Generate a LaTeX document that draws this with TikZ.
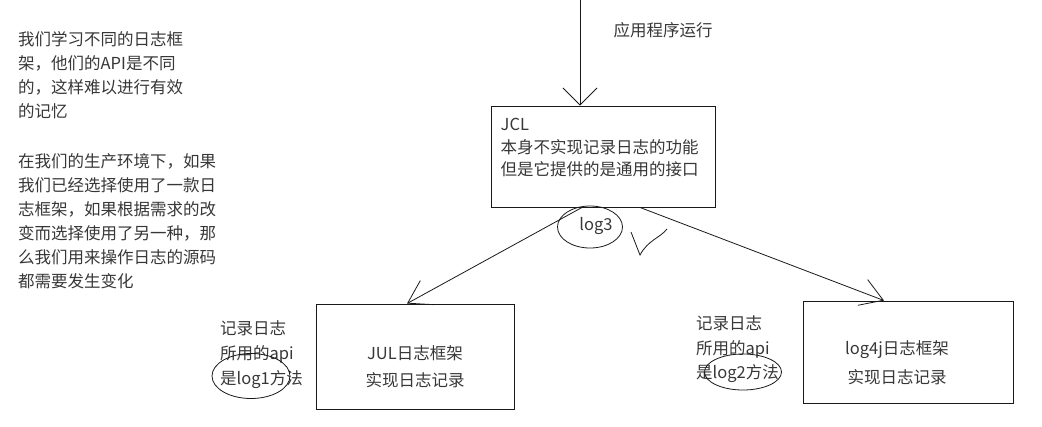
\documentclass[tikz,border=0pt]{standalone}
\usepackage{fontspec}
\setmainfont{Noto Sans CJK SC}
\usetikzlibrary{arrows.meta,positioning,shapes.geometric}
\definecolor{inkline}{RGB}{25,25,25}
\definecolor{inktext}{RGB}{55,55,55}
\tikzset{
  box/.style={
    draw=inkline,
    line width=0.9pt,
    inner sep=0pt
  },
  note/.style={
    text=inktext,
    align=left,
    inner sep=0pt,
    font=\fontsize{16.5}{24}\selectfont
  },
  ring/.style={
    ellipse,
    draw=inkline,
    line width=0.8pt,
    inner sep=0pt
  },
  arrow/.style={-{Straight Barb[length=17pt,angle'=90]}, line width=0.8pt, draw=inkline},
  slantarrow/.style={-{Straight Barb[length=22pt,angle'=64]}, line width=0.8pt, draw=inkline}
}

\begin{document}
\begin{tikzpicture}[x=1pt,y=-1pt]
  \useasboundingbox (0,0) rectangle (1042,426);

  % explanation on the left
  \node[note, anchor=north west] (why) at (18,31) {我们学习不同的日志框\\架，他们的API是不同\\的，这样难以进行有效\\的记忆\\[26pt]在我们的生产环境下，如果\\我们已经选择使用了一款日\\志框架，如果根据需求的改\\变而选择使用了另一种，那\\么我们用来操作日志的源码\\都需要发生变化};

  % facade
  \coordinate (app) at (580,0);
  \node[note] (run) at (663,30) {应用程序运行};
  \node[box, minimum width=224pt, minimum height=101pt] (jcl) at (603,156.5) {};
  \node[note, anchor=north west, font=\fontsize{16.5}{22.5}\selectfont] (jcltxt) at (500.5,118) {JCL\\本身不实现记录日志的功能\\但是它提供的是通用的接口};
  \node[ring, minimum width=65pt, minimum height=42pt] (ring3) at (590,227) {};
  \node[note] (log3) at (596,226) {log3};

  % implementations
  \node[box, minimum width=198pt, minimum height=105pt] (jul) at (415,356.5) {};
  \node[note, align=center, font=\fontsize{16.5}{27}\selectfont] (jultxt) at (415,366.5) {JUL日志框架\\实现日志记录};
  \node[box, minimum width=210pt, minimum height=102pt] (log4j) at (908,352) {};
  \node[note, align=center, font=\fontsize{16.5}{29}\selectfont] (log4jtxt) at (897,362.5) {log4j日志框架\\实现日志记录};

  % api notes
  \node[note, anchor=north west, font=\fontsize{16.5}{25}\selectfont] (api1) at (220,320.5) {记录日志\\所用的api\\是log1方法};
  \node[ring, minimum width=78pt, minimum height=45pt] (ring1) at (251,376) {};
  \node[note, anchor=north west, font=\fontsize{16.5}{24.5}\selectfont] (api2) at (696,315.5) {记录日志\\所用的api\\是log2方法};
  \node[ring, minimum width=77pt, minimum height=36pt] (ring2) at (743,372) {};

  \draw[arrow] (app) -- ([xshift=-23pt]jcl.north);
  \draw[slantarrow] ([xshift=-21pt]jcl.south) -- ([xshift=-8pt]jul.north);
  \draw[slantarrow] ([xshift=37pt]jcl.south) -- ([xshift=-24pt]log4j.north);

  % tick
  \draw[inkline, line width=0.8pt] (631,232) -- (640,255) .. controls (648,240) and (660,238) .. (667,229);
\end{tikzpicture}
\end{document}
